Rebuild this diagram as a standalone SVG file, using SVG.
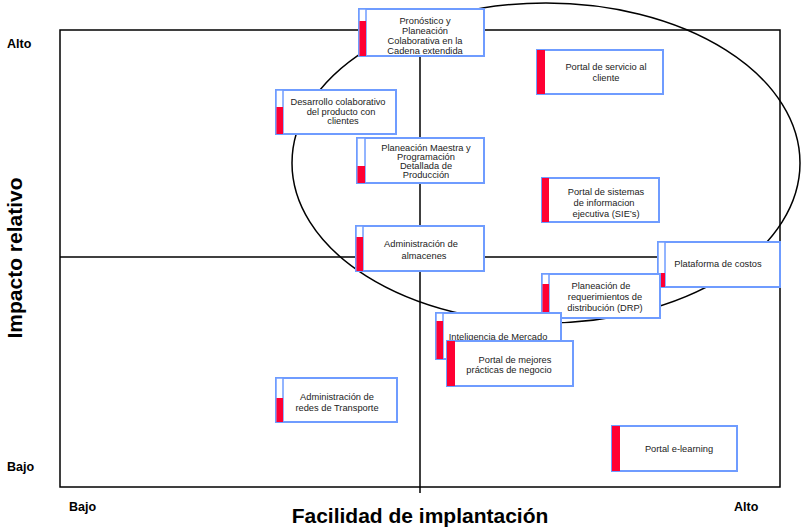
<svg xmlns="http://www.w3.org/2000/svg" width="806" height="527" viewBox="0 0 806 527">
<style>
.ln{fill:none;stroke:#000;stroke-width:1.5}
.box{fill:#fff;stroke:#6f9cff;stroke-width:2}
.bar{fill:#fff;stroke:#6f9cff;stroke-width:1.5}
.red{fill:#ff0033}
.t{font-family:"Liberation Sans",Arial,sans-serif;font-size:9.3px;fill:#222;text-anchor:middle}
.lab{font-family:"Liberation Sans",Arial,sans-serif;font-weight:bold;font-size:12.5px;fill:#000}
.ttl{font-family:"Liberation Sans",Arial,sans-serif;font-weight:bold;font-size:21px;fill:#000;text-anchor:middle}
</style>
<rect width="806" height="527" fill="#fff"/>
<g id="connectors">
<rect class="ln" x="60" y="30" width="720" height="457"/>
<line class="ln" x1="420" y1="10" x2="420" y2="493"/>
<line class="ln" x1="60" y1="257" x2="780" y2="257"/>
<ellipse class="ln" cx="546" cy="163" rx="254" ry="160"/>
</g>
<g id="labels">
<text class="lab" x="7" y="48">Alto</text>
<text class="lab" x="7" y="471">Bajo</text>
<text class="lab" x="69" y="511">Bajo</text>
<text class="lab" x="734" y="511">Alto</text>
<text class="ttl" x="420" y="523">Facilidad de implantación</text>
<text class="ttl" transform="translate(22,258) rotate(-90)" x="0" y="0">Impacto relativo</text>
</g>
<g id="n-pronostico">
<rect class="box" x="359" y="9" width="125" height="47"/>
<rect class="bar" x="359" y="9" width="7" height="47"/>
<rect class="red" x="359.5" y="21" width="6.5" height="35"/>
<text class="t" x="425" y="24">Pronóstico y</text>
<text class="t" x="425" y="34">Planeación</text>
<text class="t" x="425" y="44">Colaborativa en la</text>
<text class="t" x="425" y="54">Cadena extendida</text>
</g>
<g id="n-servicio">
<rect class="box" x="537" y="50" width="126" height="44"/>
<rect class="red" x="537" y="50" width="8" height="44"/>
<text class="t" x="606" y="70">Portal de servicio al</text>
<text class="t" x="606" y="81">cliente</text>
</g>
<g id="n-desarrollo">
<rect class="box" x="276" y="90" width="120" height="44"/>
<rect class="bar" x="276" y="90" width="7" height="44"/>
<rect class="red" x="276.5" y="107" width="6.5" height="27"/>
<text class="t" x="338" y="105">Desarrollo colaborativo</text>
<text class="t" x="341" y="115">del producto con</text>
<text class="t" x="343" y="124">clientes</text>
</g>
<g id="n-maestra">
<rect class="box" x="357" y="138" width="127" height="45"/>
<rect class="bar" x="357" y="138" width="8" height="45"/>
<rect class="red" x="357.5" y="166" width="7.5" height="17"/>
<text class="t" x="426" y="151">Planeación Maestra y</text>
<text class="t" x="426" y="160">Programación</text>
<text class="t" x="426" y="169">Detallada de</text>
<text class="t" x="426" y="178">Producción</text>
</g>
<g id="n-sie">
<rect class="box" x="542" y="178" width="117" height="44"/>
<rect class="red" x="542" y="178" width="7" height="44"/>
<text class="t" x="606" y="195">Portal de sistemas</text>
<text class="t" x="604" y="206">de informacion</text>
<text class="t" x="606" y="217">ejecutiva (SIE’s)</text>
</g>
<g id="n-almacenes">
<rect class="box" x="356" y="226" width="128" height="45"/>
<rect class="bar" x="356" y="226" width="7" height="45"/>
<rect class="red" x="356.5" y="237" width="6.5" height="34"/>
<text class="t" x="421" y="247">Administración de</text>
<text class="t" x="424" y="259">almacenes</text>
</g>
<g id="n-costos">
<rect class="box" x="658" y="242" width="122" height="45"/>
<rect class="bar" x="658" y="242" width="7" height="45"/>
<rect class="red" x="660" y="273" width="5" height="14"/>
<text class="t" x="718" y="267">Plataforma de costos</text>
</g>
<g id="n-drp">
<rect class="box" x="542" y="274" width="118" height="44"/>
<rect class="bar" x="542" y="274" width="7" height="44"/>
<rect class="red" x="542.5" y="284" width="6.5" height="34"/>
<text class="t" x="601" y="289">Planeación de</text>
<text class="t" x="605" y="300">requerimientos de</text>
<text class="t" x="605" y="311">distribución (DRP)</text>
</g>
<g id="n-inteligencia">
<rect class="box" x="436" y="313" width="125" height="46"/>
<rect class="bar" x="436" y="313" width="7" height="46"/>
<rect class="red" x="436.5" y="321" width="6.5" height="38"/>
<text class="t" x="498" y="340">Inteligencia de Mercado</text>
</g>
<g id="n-mejores">
<rect class="box" x="447" y="341" width="126" height="45"/>
<rect class="red" x="447" y="341" width="8" height="45"/>
<text class="t" x="515" y="363">Portal de mejores</text>
<text class="t" x="509" y="373">prácticas de negocio</text>
</g>
<g id="n-transporte">
<rect class="box" x="276" y="378" width="121" height="44"/>
<rect class="bar" x="276" y="378" width="7" height="44"/>
<rect class="red" x="276.5" y="398" width="6.5" height="24"/>
<text class="t" x="337" y="400">Administración de</text>
<text class="t" x="337" y="411">redes de Transporte</text>
</g>
<g id="n-elearning">
<rect class="box" x="612" y="426" width="125" height="45"/>
<rect class="red" x="612" y="426" width="8" height="45"/>
<text class="t" x="679" y="452">Portal e-learning</text>
</g>
</svg>
